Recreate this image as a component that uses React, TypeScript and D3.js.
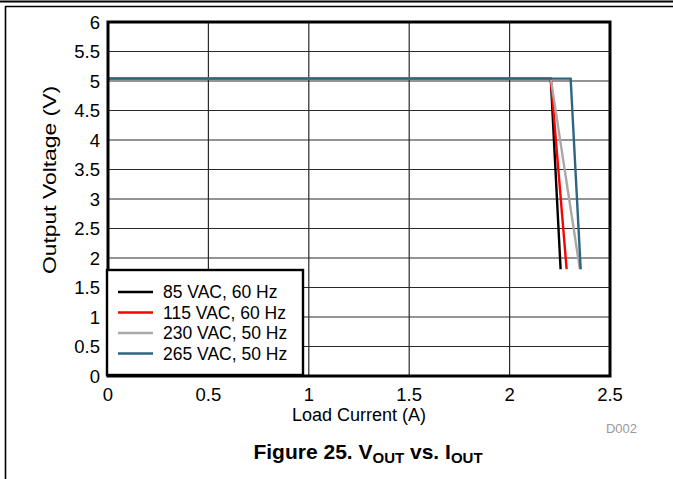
import React from "react";
import * as d3 from "d3";

const xTicks = [0, 0.5, 1, 1.5, 2, 2.5];
const yTicks = [0, 0.5, 1, 1.5, 2, 2.5, 3, 3.5, 4, 4.5, 5, 5.5, 6];
const xTickLabels = ["0", "0.5", "1", "1.5", "2", "2.5"];
const yTickLabels = ["0", "0.5", "1", "1.5", "2", "2.5", "3", "3.5", "4", "4.5", "5", "5.5", "6"];

const seriesNames = ["85 VAC, 60 Hz", "115 VAC, 60 Hz", "230 VAC, 50 Hz", "265 VAC, 50 Hz"];
const seriesColors = ["#000000", "#ff0000", "#a8a8a8", "#2f6580"];
const current85 = [0, 2.205, 2.254];
const voltage85 = [5.04, 5.04, 1.81];
const current115 = [0, 2.205, 2.284];
const voltage115 = [5.04, 5.04, 1.81];
const current230 = [0, 2.205, 2.35];
const voltage230 = [5.04, 5.04, 1.81];
const current265 = [0, 2.304, 2.354];
const voltage265 = [5.04, 5.04, 1.81];

const seriesX = [current85, current115, current230, current265];
const seriesY = [voltage85, voltage115, voltage230, voltage265];

const FONT = "'Liberation Sans', Arial, Helvetica, sans-serif";

export default function App() {
  const W = 673;
  const H = 479;
  const left = 108;
  const right = 610;
  const top = 22;
  const bottom = 376;
  const x = d3.scaleLinear().domain([0, 2.5]).range([left, right]);
  const y = d3.scaleLinear().domain([0, 6]).range([bottom, top]);
  const line = d3
    .line<[number, number]>()
    .x((d) => x(d[0]))
    .y((d) => y(d[1]));

  const legX = 107;
  const legY = 270;
  const legW = 196;
  const legH = 105;
  const rowY = [292, 312.5, 333, 353.5];

  return (
    <svg
      width={W}
      height={H}
      viewBox={`0 0 ${W} ${H}`}
      style={{ position: "absolute", left: 0, top: 0, background: "#fff" }}
      fontFamily={FONT}
    >
      <rect x={0} y={0} width={W} height={H} fill="#fff" />
      {/* page frame */}
      <line x1={0} x2={W} y1={1.5} y2={1.5} stroke="#000" strokeWidth={2} />
      <line x1={5} x2={W} y1={6.5} y2={6.5} stroke="#000" strokeWidth={1.6} />
      <line x1={5.5} x2={5.5} y1={6} y2={H} stroke="#000" strokeWidth={1.6} />

      {/* grid */}
      {xTicks.slice(1, -1).map((t) => (
        <line key={"gx" + t} x1={x(t)} x2={x(t)} y1={top} y2={bottom} stroke="#2a2a2a" strokeWidth={1.2} />
      ))}
      {yTicks.slice(1, -1).map((t) => (
        <line key={"gy" + t} x1={left} x2={right} y1={y(t)} y2={y(t)} stroke="#2a2a2a" strokeWidth={1.2} />
      ))}

      {/* series */}
      {seriesX.map((xs, i) => (
        <path
          key={"s" + i}
          d={line(xs.map((v, j) => [v, seriesY[i][j]] as [number, number])) || ""}
          fill="none"
          stroke={seriesColors[i]}
          strokeWidth={2.4}
          strokeLinejoin="miter"
        />
      ))}

      {/* plot border */}
      <rect x={left} y={top} width={right - left} height={bottom - top} fill="none" stroke="#000" strokeWidth={3} />

      {/* tick labels */}
      {yTicks.map((t, i) => (
        <text key={"yl" + t} x={100} y={y(t)} dy="0.36em" textAnchor="end" fontSize={18.5} fill="#000">
          {yTickLabels[i]}
        </text>
      ))}
      {xTicks.map((t, i) => (
        <text key={"xl" + t} x={x(t)} y={401} textAnchor="middle" fontSize={18.5} fill="#000">
          {xTickLabels[i]}
        </text>
      ))}

      {/* axis titles */}
      <text
        transform={`translate(56, ${180}) rotate(-90)`}
        textAnchor="middle"
        fontSize={18.5}
        textLength={188}
        lengthAdjust="spacingAndGlyphs"
        fill="#000"
      >
        Output Voltage (V)
      </text>
      <text x={359} y={421} textAnchor="middle" fontSize={18} fill="#000">
        Load Current (A)
      </text>
      <text x={637} y={433} textAnchor="end" fontSize={13} fill="#999">
        D002
      </text>

      {/* legend */}
      <rect x={legX} y={legY} width={legW} height={legH} fill="#fff" stroke="#000" strokeWidth={2.4} />
      {seriesNames.map((n, i) => (
        <g key={"lg" + i}>
          <line x1={118} x2={153} y1={rowY[i]} y2={rowY[i]} stroke={seriesColors[i]} strokeWidth={2.4} />
          <text x={163} y={rowY[i]} dy="0.36em" fontSize={17.5} fill="#000">
            {n}
          </text>
        </g>
      ))}

      {/* caption */}
      <text x={368} y={459} textAnchor="middle" fontSize={21} fontWeight="bold" fill="#000">
        Figure 25. V<tspan fontSize={15} dy={4}>OUT</tspan>
        <tspan dy={-4}> vs. I</tspan>
        <tspan fontSize={15} dy={4}>OUT</tspan>
      </text>
    </svg>
  );
}
